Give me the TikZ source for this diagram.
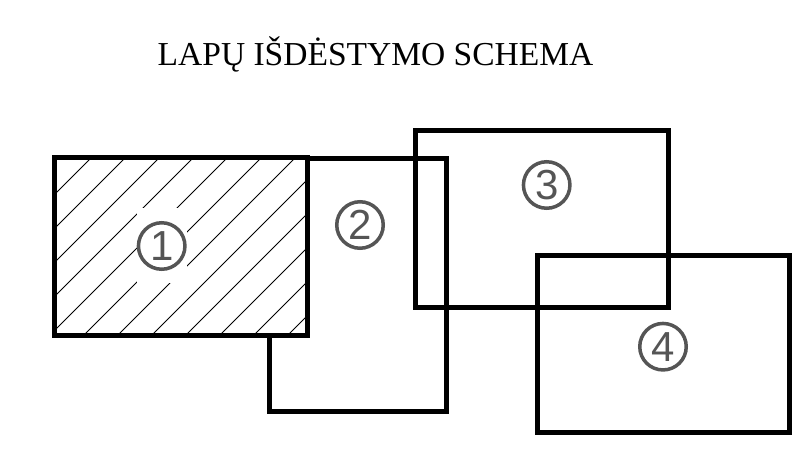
\documentclass[tikz,border=0pt]{standalone}
\usepackage{fontspec}
\setmainfont{Liberation Serif}
\newfontfamily\numfont{Liberation Sans}
\definecolor{numgray}{HTML}{555555}
\begin{document}
\begin{tikzpicture}[x=1pt,y=-1pt,
  sheet/.style={line width=5pt},
  hatchline/.style={line width=1pt},
  num/.style={circle, draw=numgray, line width=3.5pt, text=numgray,
    font=\numfont\fontsize{42}{42}\selectfont, minimum size=46.5pt, inner sep=0pt}]
\useasboundingbox (0,0) rectangle (795,450);
\node[font=\fontsize{33.5}{40}\selectfont, anchor=base, inner sep=0pt] (title) at (375.5,65) {LAPŲ IŠDĖSTYMO SCHEMA};
% sheet 2
\draw[sheet] (269,158) rectangle (446,411);
% sheet 1 (hatched)
\fill[white] (54,157) rectangle (307,335);
\begin{scope}
  \clip (54,157) rectangle (307,335);
  \foreach \c in {215,249,...,623}
    \draw[hatchline] (\c-100,100) -- (\c-400,400);
\end{scope}
\fill[white] (137,208) rectangle (187,283);
\draw[sheet] (54,157) rectangle (307,335);
% sheets 3 and 4
\draw[sheet] (415,130) rectangle (668,307);
\draw[sheet] (537,255) rectangle (789,432);
% numbers
\node[num] (n1) at (161.7,246) {1};
\node[num] (n2) at (360,225) {2};
\node[num] (n3) at (546.7,185) {3};
\node[num] (n4) at (663,346.7) {4};
\end{tikzpicture}
\end{document}
